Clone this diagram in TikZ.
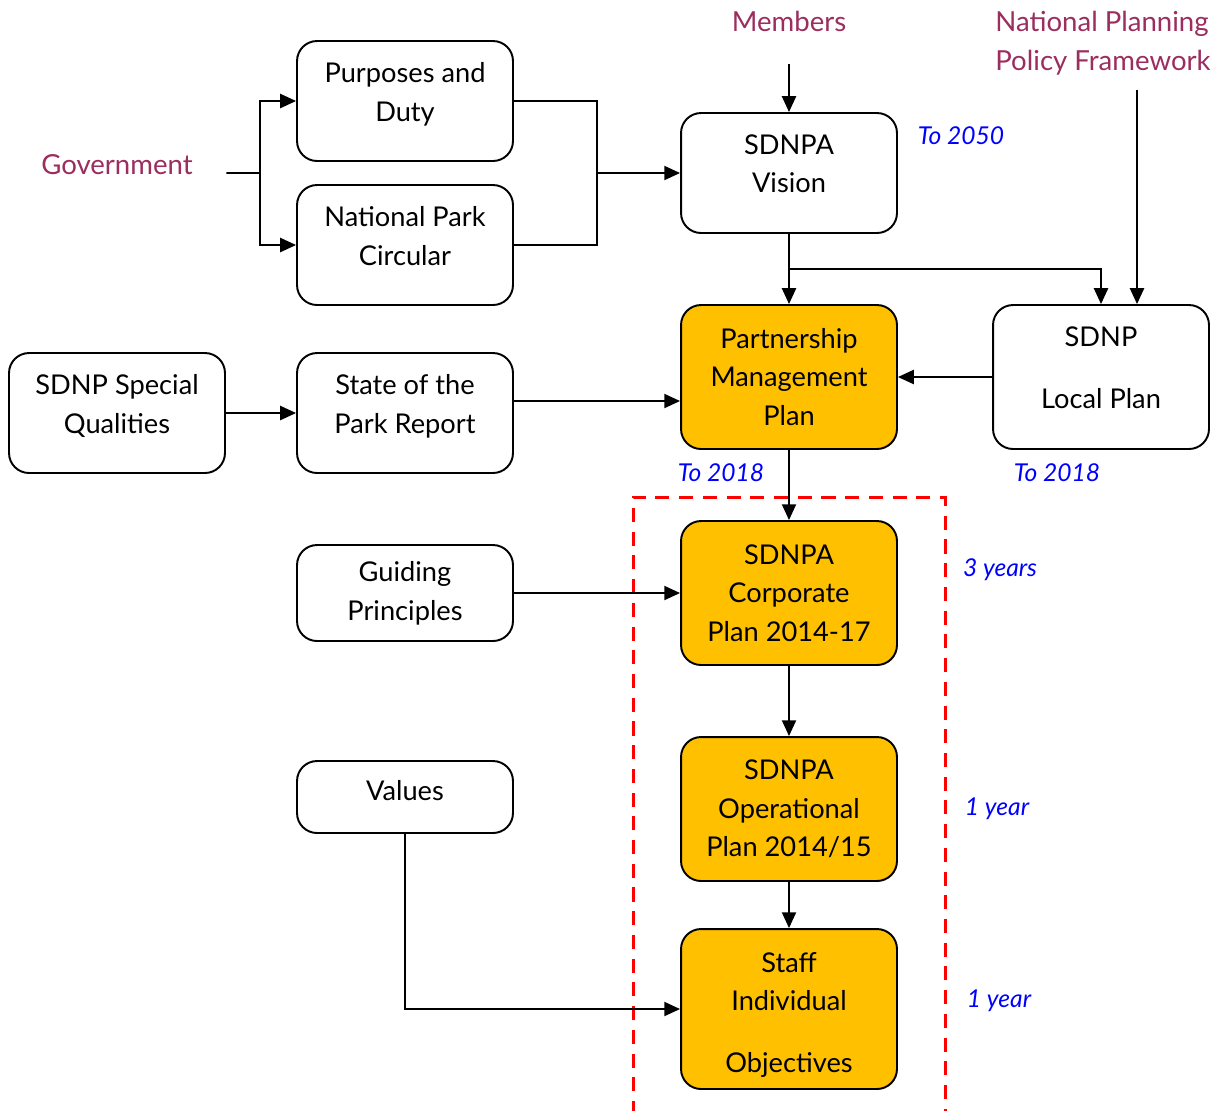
\documentclass[tikz,border=0pt]{standalone}
\usepackage{fontspec}
\setmainfont{Lato}
\usetikzlibrary{arrows.meta}
\definecolor{planorange}{RGB}{255,192,0}
\definecolor{srcpurple}{RGB}{155,45,95}
\begin{document}
\begin{tikzpicture}[x=0.02cm,y=-0.02cm]
		\tikzset{box/.style = {shape=rectangle,rounded corners=0.4cm,draw,line width=1.1pt,minimum width=4.32cm,inner sep=0pt,align=center,font=\fontsize{15.5}{22}\selectfont}}
		\tikzset{plan/.style = {box,fill=planorange}}
		\tikzset{arr/.style = {-{Triangle[length=9pt,width=8pt]},line width=1.1pt}}
		\tikzset{source/.style = {text=srcpurple,inner sep=0pt,font=\fontsize{15.7}{22}\selectfont}}
		\tikzset{span/.style = {text=blue,inner sep=0pt,font=\fontsize{14}{18}\selectfont\itshape}}
		\useasboundingbox (0,0) rectangle (1222,1110);
		% outside inputs
		\node[source,minimum width=4.36cm] (gov) at (117,165) {Government};
		\node[source] (mem) at (789,21) {Members};
		\node[source,anchor=west,align=left] (nppf) at (995,43) {National Planning\\Policy Framework};
		% boxes
		\node[box,minimum height=2.4cm] (purp) at (405,101) {Purposes and\\Duty\\[-11.5pt]\mbox{}};
		\node[box,minimum height=2.4cm] (npc) at (405,245) {National Park\\Circular\\[-11.5pt]\mbox{}};
		\node[box,minimum height=2.4cm] (vision) at (789,173) {SDNPA\\Vision\\[-11.5pt]\mbox{}};
		\node[plan,minimum height=2.88cm] (pmp) at (789,377) {Partnership\\Management\\Plan};
		\node[box,minimum height=2.88cm] (local) at (1101,377) {SDNP\\[13pt]Local Plan\\[-11.5pt]\mbox{}};
		\node[box,minimum height=2.4cm] (qual) at (117,413) {SDNP Special\\Qualities\\[-11.5pt]\mbox{}};
		\node[box,minimum height=2.4cm] (sotp) at (405,413) {State of the\\Park Report\\[-11.5pt]\mbox{}};
		\node[plan,minimum height=2.88cm] (corp) at (789,593) {SDNPA\\Corporate\\Plan 2014-17};
		\node[box,minimum height=1.92cm] (guide) at (405,593) {Guiding\\Principles};
		\node[plan,minimum height=2.88cm] (ops) at (789,809) {SDNPA\\Operational\\Plan 2014/15};
		\node[box,minimum height=1.44cm] (values) at (405,797) {Values\\[-15pt]\mbox{}};
		\node[plan,minimum height=3.2cm] (staff) at (789,1009) {\mbox{}\\[-4pt]Staff\\Individual\\[13pt]Objectives};
		% time spans
		\node[span] (t2050) at (961,136) {To 2050};
		\node[span] (t2018a) at (721,473) {To 2018};
		\node[span] (t2018b) at (1057,473) {To 2018};
		\node[span] (y3) at (1000,570) {3 years};
		\node[span] (y1a) at (997,809) {1 year};
		\node[span] (y1b) at (999,1001) {1 year};
		% delivery frame
		\draw[red,line width=1.7pt,dash pattern=on 8pt off 5.5pt] (633,1115) -- (633,497) -- (945,497) -- (945,1115);
		% connectors
		\coordinate (fork) at (260,173);
		\coordinate (join) at (597,173);
		\coordinate (vsplit) at (789,269);
		\coordinate (nppfx) at (1137,90);
		\draw[line width=1.1pt] ([yshift=-0.16cm]gov.east) -- (fork);
		\draw[arr] (fork) |- (purp.west);
		\draw[arr] (fork) |- (npc.west);
		\draw[line width=1.1pt] (purp.east) -| (join);
		\draw[line width=1.1pt] (npc.east) -| (join);
		\draw[arr] (join) -- (vision.west);
		\draw[arr,shorten <=0.64cm] (mem) -- (vision);
		\draw[arr] (vision) -- (pmp);
		\draw[arr] (vsplit) -| (local.north);
		\draw[arr] (nppfx) -- (nppfx |- local.north);
		\draw[arr] (local) -- (pmp);
		\draw[arr] (qual) -- (sotp);
		\draw[arr] ([yshift=0.24cm]sotp.east) -- ([yshift=0.24cm]sotp.east -| pmp.west);
		\draw[arr] (pmp) -- (corp);
		\draw[arr] (guide) -- (corp);
		\draw[arr] (corp) -- (ops);
		\draw[arr] (ops) -- (staff);
		\draw[arr] (values.south) |- (staff.west);
\end{tikzpicture}
\end{document}
